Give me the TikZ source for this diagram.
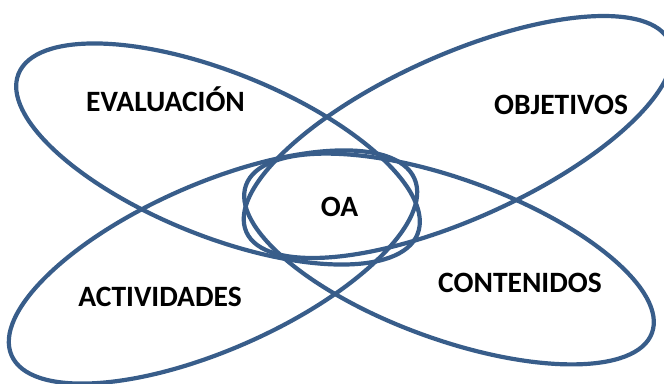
\documentclass[tikz,border=0pt]{standalone}
\usepackage{fontspec}
\setmainfont{Carlito}
\usepackage{tikz}
\usetikzlibrary{shapes.geometric}
\definecolor{oablue}{RGB}{56,93,138}
\tikzset{
    petal/.style={ellipse, draw=oablue, line width=4.2pt, inner sep=0pt}
}
\tikzset{
    word/.style={font=\fontsize{29.5}{34}\selectfont\bfseries, text=black,
    	anchor=base}
}

\begin{document}
\begin{tikzpicture}[x=1pt,y=1pt]
	\useasboundingbox (0,0) rectangle (664,383);
	\node (eval) [petal, minimum width=430pt, minimum height=164pt, rotate=-21.9] at (218,229) {};
	\node (obj) [petal, minimum width=464pt, minimum height=164pt, rotate=24.2] at (458,246) {};
	\node (act) [petal, minimum width=440pt, minimum height=166pt, rotate=23.7] at (213,116) {};
	\node (cont) [petal, minimum width=432pt, minimum height=160pt, rotate=-20.0] at (449,124) {};
	\node (teval) [word] at (165.5,271) {EVALUACIÓN};
	\node (tobj) [word] at (561,268) {OBJETIVOS};
	\node (toa) [word] at (339.5,166) {OA};
	\node (tact) [word] at (160,76) {ACTIVIDADES};
	\node (tcont) [word] at (520,90) {CONTENIDOS};
\end{tikzpicture}
\end{document}
